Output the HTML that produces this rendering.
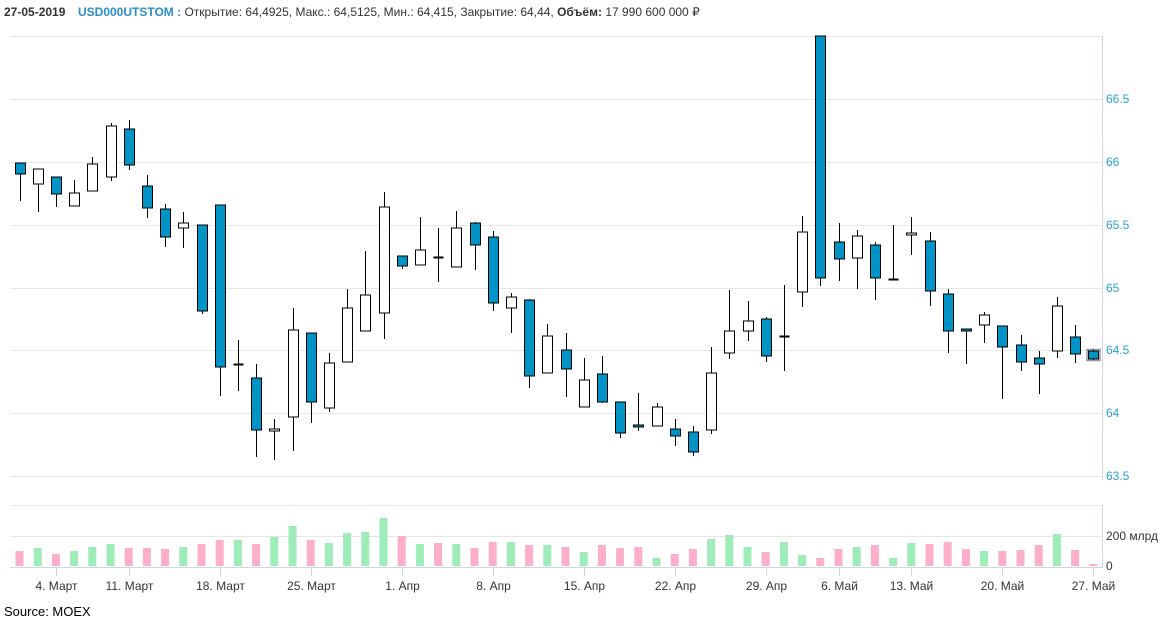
<!DOCTYPE html>
<html><head><meta charset="utf-8">
<style>
body{margin:0;background:#fff;width:1160px;height:620px;overflow:hidden;font-family:"Liberation Sans",sans-serif}
svg{position:absolute;left:0;top:0}
</style></head>
<body>
<svg id="s" width="1160" height="620" xmlns="http://www.w3.org/2000/svg">
<text x="4" y="16" font-size="12" font-weight="bold" fill="#333">27-05-2019</text>
<text x="78" y="16" font-size="12" fill="#333"><tspan font-weight="bold" fill="#2a8fc8">USD000UTSTOM :</tspan> Открытие: 64,4925, Макс.: 64,5125, Мин.: 64,415, Закрытие: 64,44, <tspan font-weight="bold">Объём:</tspan> 17 990 600 000 ₽</text>
<text x="4" y="616" font-size="13" fill="#000">Source: MOEX</text>
</svg>
<script>
var s=document.getElementById('s'),NS='http://www.w3.org/2000/svg';
function el(t,a,txt){var e=document.createElementNS(NS,t);for(var k in a)e.setAttribute(k,a[k]);if(txt)e.textContent=txt;s.appendChild(e);return e;}
[36,99,162,225,288,350,413,476].forEach(function(y){el('line',{x1:10,x2:1102,y1:y+.5,y2:y+.5,stroke:'#e6e6e6'});});
[505,536].forEach(function(y){el('line',{x1:10,x2:1102,y1:y+.5,y2:y+.5,stroke:'#e6e6e6'});});
el('line',{x1:10,x2:1102,y1:567.5,y2:567.5,stroke:'#ccd6eb'});
el('line',{x1:1102.5,x2:1102.5,y1:36,y2:480,stroke:'#ccd6eb'});
el('line',{x1:1102.5,x2:1102.5,y1:505,y2:568,stroke:'#ccd6eb'});
[['66.5',99],['66',162],['65.5',225],['65',288],['64.5',350],['64',413],['63.5',476]].forEach(function(p){el('text',{x:1106,y:p[1]+4,'font-size':12,fill:'#2a9fd6'},p[0]);});
el('text',{x:1106,y:540,'font-size':12,fill:'#333'},'200 млрд');
el('text',{x:1106,y:570,'font-size':12,fill:'#333'},'0');
function X(i){return 19.5+i*18.2;}
var C=[[163,174,163,201,1],[169,184,169,212,0],[177,194,177,207,1],[193,206,180,206,0],[164,191,157,191,0],[126,177,123,181,0],[129,165,120,170,1],[186,208,175,218,1],[209,237,204,247,1],[223,228,212,248,0],
[225,311,225,314,1],[205,367,205,396,1],[364,364,340,391,2],[378,430,364,457,1],[429,431,419,460,0],[330,417,308,451,0],[333,402,333,423,1],[363,408,353,412,0],[308,362,289,362,0],[295,331,251,331,0],
[207,313,192,339,0],[256,266,256,269,1],[250,265,217,265,0],[257,257,228,282,2],[228,267,211,267,0],[223,245,222,270,1],[237,303,231,311,1],[297,308,293,333,0],[300,376,299,388,1],[336,373,324,373,0],
[350,369,333,397,1],[380,407,358,407,0],[374,402,356,403,1],[402,433,402,438,1],[425,427,393,431,1],[407,426,403,426,0],[429,436,419,446,1],[432,452,426,456,1],[373,430,347,434,0],[331,353,290,359,0],
[321,331,301,341,0],[319,356,317,362,1],[336,336,285,371,2],[232,292,216,307,0],[36,278,36,286,1],[242,259,223,281,1],[236,258,230,289,0],[245,278,242,300,1],[279,279,225,279,2],[233,235,217,255,0],
[241,291,232,306,1],[294,331,289,353,1],[329,331,329,364,1],[315,325,312,343,0],[326,347,326,399,1],[345,362,335,371,1],[358,364,351,394,1],[306,351,297,358,0],[337,354,325,363,1],[351,359,349,360,1]];
C.forEach(function(c,i){var x=Math.round(X(i))+.5;
 el('line',{x1:x,x2:x,y1:c[2],y2:c[3],stroke:'#000','stroke-width':1});
 if(c[4]==2){el('line',{x1:x-5,x2:x+5,y1:c[0]+.5,y2:c[0]+.5,stroke:'#000','stroke-width':2});return;}
 var h=Math.max(c[1]-c[0],2);
 el('rect',{x:x-5,y:c[0],width:10,height:h,fill:c[4]?'#0093c6':'#fff',stroke:'#000','stroke-width':1});
 if(i==59)el('rect',{x:x-6.5,y:c[0]-1.5,width:13,height:h+3,fill:'none',stroke:'#555','stroke-width':1.5,opacity:.6});
});
var V=[153,144,162,153,141,132,144,144,147,141,132,120,120,132,111,78,120,129,99,96,54,108,132,129,132,144,126,126,135,135,141,156,
135,144,141,174,162,147,117,105,141,156,126,165,174,147,141,135,174,129,132,126,147,153,153,150,135,102,150,192];
var G='pgpgggpppgppgpggpggggpgpgppgpgpg'+'pppgppgggpggppgpggpppgpppgpp';
V.forEach(function(v,i){var y=500+v/3;el('rect',{x:X(i)-4,y:y,width:8,height:566-y,fill:G[i]=='g'?'#9eecb8':'#fdaec8'});});
[[2,'4. Март'],[6,'11. Март'],[11,'18. Март'],[16,'25. Март'],[21,'1. Апр'],[26,'8. Апр'],[31,'15. Апр'],[36,'22. Апр'],[41,'29. Апр'],[45,'6. Май'],[49,'13. Май'],[54,'20. Май'],[59,'27. Май']].forEach(function(t){var x=Math.round(X(t[0]))+.5;
 el('line',{x1:x,x2:x,y1:568,y2:576,stroke:'#ccd6eb'});
 el('text',{x:x,y:590,'font-size':12,fill:'#333','text-anchor':'middle'},t[1]);});
</script>
</body></html>
